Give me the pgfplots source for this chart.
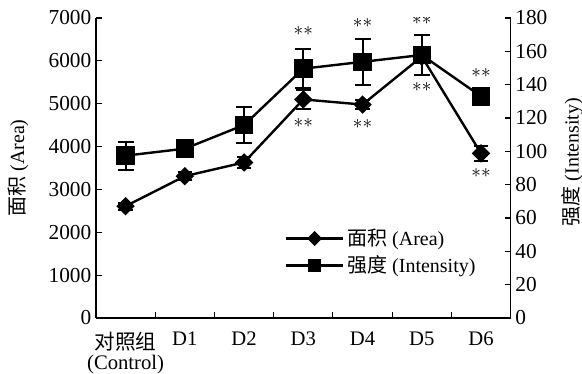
\documentclass[border=0pt]{standalone}
\usepackage{fontspec}
\setmainfont{Liberation Serif}
\newfontfamily\cjk{Noto Sans CJK SC}
\usepackage{pgfplots}
\pgfplotsset{compat=1.18}
\tikzset{sig/.style={inner sep=0pt, font=\fontsize{15}{15}\selectfont}}
\begin{document}
\begin{tikzpicture}
\useasboundingbox (-72pt,-42pt) rectangle (364.5pt,238.5pt);
\pgfplotsset{
  common/.style={
    width=311pt, height=225pt, scale only axis,
    xmin=-0.5, xmax=6.5,
    tick align=inside,
    major tick length=4.5pt, minor tick length=4.5pt,
    tick style={black, line width=0.8pt},
    axis line style={line width=0.8pt},
    /pgf/number format/assume math mode=true,
    /pgf/number format/1000 sep={},
    tick label style={font=\fontsize{16}{15}\selectfont},
    label style={font=\fontsize{15}{17}\selectfont},
    legend style={font=\fontsize{15}{17}\selectfont},
  },
  areastyle/.style={black, line width=1.8pt, mark=square*, mark size=4pt, mark options={rotate=45, solid}},
  intstyle/.style={black, line width=1.8pt, mark=square*, mark size=6pt, mark options={solid}},
}
\begin{axis}[common,
  axis y line*=left, axis x line*=bottom,
  ymin=0, ymax=7000, ytick={0,1000,...,7000},
  xtick={0,...,6},
  xticklabels={{{\cjk 对照组}\\(Control)},D1,D2,D3,D4,D5,D6},
  xticklabel style={align=center, yshift=-7pt, font=\fontsize{15.5}{15}\selectfont},
  minor xtick={0.5,1.5,2.5,3.5,4.5,5.5},
  major x tick style={draw=none},
  ylabel={{\cjk 面积} (Area)},
  ylabel style={at={(axis description cs:-0.188,0.5)}, anchor=center},
]
\addplot+[areastyle, error bars/.cd, y dir=both, y explicit,
  error bar style={line width=1.6pt, black},
  error mark options={rotate=90, line width=1.6pt, mark size=5.5pt, black}]
  coordinates {
  (0,2610) +- (0,80)
  (1,3310) +- (0,100)
  (2,3630) +- (0,130)
  (3,5100) +- (0,220)
  (4,4980) +- (0,110)
  (5,6100) +- (0,150)
  (6,3840) +- (0,180)
};
\node[sig] at (axis cs:3,6690) {$\ast\ast$};
\node[sig] at (axis cs:3,4550) {$\ast\ast$};
\node[sig] at (axis cs:4,6876) {$\ast\ast$};
\node[sig] at (axis cs:4,4520) {$\ast\ast$};
\node[sig] at (axis cs:5,6953) {$\ast\ast$};
\node[sig] at (axis cs:5,5383) {$\ast\ast$};
\node[sig] at (axis cs:6,5724) {$\ast\ast$};
\node[sig] at (axis cs:6,3383) {$\ast\ast$};
\end{axis}
\begin{axis}[common,
  axis y line*=right, axis x line=none,
  ymin=0, ymax=180, ytick={0,20,...,180},
  ylabel={{\cjk 强度} (Intensity)},
  ylabel style={at={(axis description cs:1.149,0.52)}, anchor=center},
  legend image code/.code={\draw[mark repeat=2, mark phase=2, #1, /tikz/every mark/.append style={scale=0.68}] plot coordinates {(0pt,0pt) (21.5pt,0pt) (43pt,0pt)};},
  legend style={draw=none, fill=none, at={(axis description cs:0.445,0.22)}, anchor=west, row sep=2pt, cells={anchor=west}},
]
\addlegendimage{black, line width=1.8pt, mark=square*, mark size=4.5pt, mark options={rotate=45, solid}}
\addlegendentry{{\cjk 面积} (Area)}
\addplot+[intstyle, error bars/.cd, y dir=both, y explicit,
  error bar style={line width=1.6pt, black},
  error mark options={rotate=90, line width=1.6pt, mark size=6pt, black}]
  coordinates {
  (0,97.4) +- (0,8.4)
  (1,101.6) +- (0,4)
  (2,115.8) +- (0,10.6)
  (3,149.6) +- (0,11.8)
  (4,153.7) +- (0,13.7)
  (5,157.8) +- (0,12)
  (6,133) +- (0,4)
};
\addlegendentry{{\cjk 强度} (Intensity)}
\end{axis}
\end{tikzpicture}
\end{document}
